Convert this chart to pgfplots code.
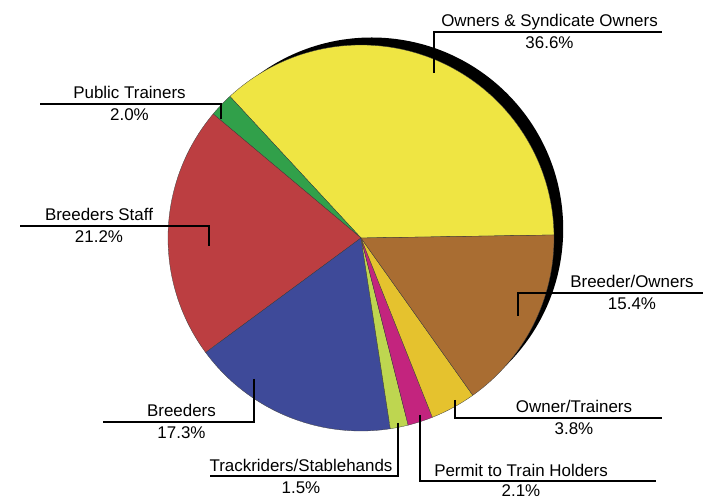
\documentclass[border=0pt]{standalone}
\usepackage{pgfplots}
\pgfplotsset{compat=1.18}
\usepackage{fontspec}
\setmainfont{Liberation Sans}

\definecolor{cOwn}{HTML}{EFE543}
\definecolor{cPub}{HTML}{31A04A}
\definecolor{cStaff}{HTML}{BC3E41}
\definecolor{cBrd}{HTML}{3E4A99}
\definecolor{cTrk}{HTML}{BED650}
\definecolor{cPmt}{HTML}{C3247E}
\definecolor{cOT}{HTML}{E5C22E}
\definecolor{cBO}{HTML}{A96D32}

\begin{document}
\begin{tikzpicture}
\begin{axis}[
  width=704bp, height=499bp, scale only axis,
  xmin=0, xmax=704, ymin=0, ymax=499,
  hide axis, clip=false,
]
\path (axis cs:0,0) rectangle (axis cs:704,499);
% pie: share of each group (%), counter-clockwise from the right
\pgfplotsextra{
  \fill[black] (axis cs:371.7,270) circle[radius=191.5bp];
  \xdef\s{0.9}
  \foreach \p/\c in {36.6/cOwn, 2.0/cPub, 21.2/cStaff, 17.3/cBrd,
                     1.5/cTrk, 2.1/cPmt, 3.8/cOT, 15.4/cBO}{
    \pgfmathsetmacro\e{\s+\p*360/99.9}
    \fill[\c, draw=black!75, line width=0.3bp] (axis cs:361,261) -- ++(\s:193bp)
      arc[start angle=\s, end angle=\e, radius=193bp] -- cycle;
    \xdef\s{\e}
  }
}
% leader lines
\draw[line width=1.6bp] (axis cs:434,426) -- (axis cs:434,467) -- (axis cs:662,467);
\draw[line width=1.6bp] (axis cs:221,380) -- (axis cs:221,395) -- (axis cs:40,395);
\draw[line width=1.6bp] (axis cs:209,253) -- (axis cs:209,273) -- (axis cs:20,273);
\draw[line width=1.6bp] (axis cs:254,120) -- (axis cs:254,77) -- (axis cs:103,77);
\draw[line width=1.6bp] (axis cs:398,76) -- (axis cs:398,23) -- (axis cs:210,23);
\draw[line width=1.6bp] (axis cs:420,84) -- (axis cs:420,18) -- (axis cs:656,18);
\draw[line width=1.6bp] (axis cs:455,99) -- (axis cs:455,81) -- (axis cs:662,81);
\draw[line width=1.6bp] (axis cs:518,183) -- (axis cs:518,206) -- (axis cs:703,206);
% labels
\tikzset{lab/.style={anchor=base, inner sep=0pt, font=\fontsize{17}{20}\selectfont}}
\node[lab] at (axis cs:549.5,472) {Owners \& Syndicate Owners};
\node[lab] at (axis cs:549.5,450) {36.6\%};
\node[lab] at (axis cs:129.5,400) {Public Trainers};
\node[lab] at (axis cs:129.5,378) {2.0\%};
\node[lab] at (axis cs:99,278) {Breeders Staff};
\node[lab] at (axis cs:99,256) {21.2\%};
\node[lab] at (axis cs:181.5,82) {Breeders};
\node[lab] at (axis cs:181.5,60) {17.3\%};
\node[lab] at (axis cs:301,28) {Trackriders/Stablehands};
\node[lab] at (axis cs:301,6) {1.5\%};
\node[lab] at (axis cs:521,23) {Permit to Train Holders};
\node[lab] at (axis cs:521,2.5) {2.1\%};
\node[lab] at (axis cs:574,86) {Owner/Trainers};
\node[lab] at (axis cs:574,64) {3.8\%};
\node[lab] at (axis cs:632,211) {Breeder/Owners};
\node[lab] at (axis cs:632,189) {15.4\%};
\end{axis}
\end{tikzpicture}
\end{document}
